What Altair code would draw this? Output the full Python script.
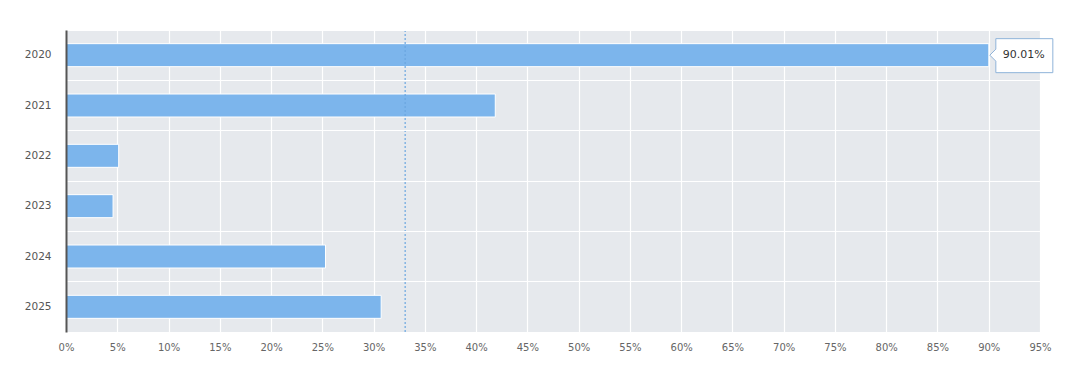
import altair as alt
import pandas as pd

years = ["2020", "2021", "2022", "2023", "2024", "2025"]
returns = [90.01, 41.87, 5.14, 4.59, 25.31, 30.74]
avg_line = [33.08]
tip_year = ["2020"]
tip_value = [90.01]
tip_label = ["90.01%"]
x_ticks = [0, 5, 10, 15, 20, 25, 30, 35, 40, 45, 50, 55, 60, 65, 70, 75, 80, 85, 90, 95]

df = pd.DataFrame({"year": years, "value": returns})
avg_df = pd.DataFrame({"avg": avg_line})
tip_df = pd.DataFrame({"year": tip_year, "value": tip_value, "label": tip_label})

FONT = "DejaVu Sans"

x_scale = alt.Scale(domain=[0, 95], nice=False, zero=True)
y_scale = alt.Scale(domain=years, paddingInner=0, paddingOuter=0)

bars = alt.Chart(df).mark_bar(
    color="#7cb5ec", stroke="#ffffff", strokeWidth=1, size=23
).encode(
    x=alt.X("value:Q", scale=x_scale,
            axis=alt.Axis(values=x_ticks, labelExpr="datum.value + '%'", title=None,
                          grid=True, gridColor="#ffffff", gridWidth=1.2,
                          domain=False, ticks=False, labelPadding=10,
                          labelFlush=False, labelOverlap=False,
                          labelFont=FONT, labelFontSize=10, labelColor="#666666")),
    y=alt.Y("year:N", scale=y_scale, sort=years,
            axis=alt.Axis(title=None, grid=True, gridColor="#ffffff", gridWidth=1.2,
                          bandPosition=0, domain=True, domainColor="#555555",
                          domainWidth=2, ticks=False, labelPadding=15, zindex=1,
                          labelFont=FONT, labelFontSize=10.5, labelColor="#555555")),
)

rule = alt.Chart(avg_df).mark_rule(
    color="#6aa6e0", strokeDash=[2, 2], strokeWidth=1.2
).encode(x=alt.X("avg:Q", scale=x_scale))

box_path = "M0,0 L0.6,-0.6 L0.6,-1.65 L6.3,-1.65 L6.3,1.75 L0.6,1.75 L0.6,0.6 Z"
box = alt.Chart(tip_df).mark_point(
    shape=box_path, size=400, filled=True, fill="#ffffff", opacity=1,
    stroke="#8fb3d9", strokeWidth=1, xOffset=1
).encode(
    x=alt.X("value:Q", scale=x_scale),
    y=alt.Y("year:N", scale=y_scale, sort=years),
)

tip_text = alt.Chart(tip_df).mark_text(
    font=FONT, fontSize=11, color="#333333", align="center", baseline="middle", dx=35
).encode(
    x=alt.X("value:Q", scale=x_scale),
    y=alt.Y("year:N", scale=y_scale, sort=years),
    text="label:N",
)

chart = alt.layer(bars, rule, box, tip_text).properties(
    width=974, height=302,
    autosize=alt.AutoSizeParams(type="none"),
    padding={"left": 58, "top": 22, "right": 32, "bottom": 33},
    background="#ffffff",
).configure_view(
    fill="#e6e9ed", stroke=None
)

chart.save("out.html", embed_options={"renderer": "svg", "actions": False})
